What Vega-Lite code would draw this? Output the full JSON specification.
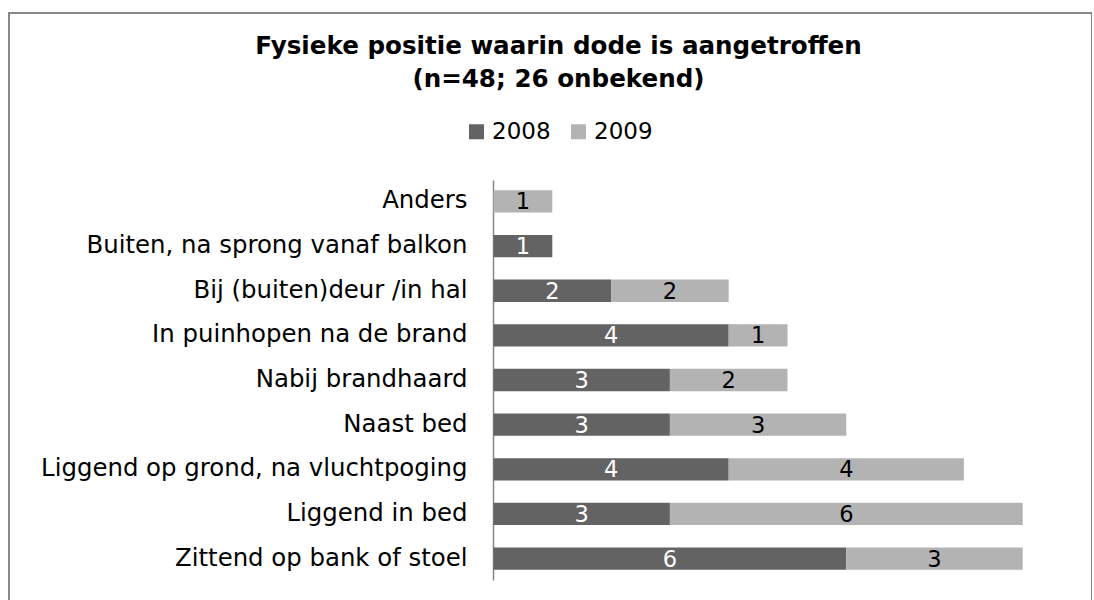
{
  "$schema": "https://vega.github.io/schema/vega-lite/v6.json",
  "autosize": {"type": "none"},
  "padding": {"left": 9, "top": 13, "right": 0, "bottom": 0},
  "width": 1083,
  "height": 600,
  "background": "white",
  "title": {
    "text": ["Fysieke positie waarin dode is aangetroffen", "(n=48; 26 onbekend)"],
    "font": "DejaVu Sans",
    "fontSize": 24.6,
    "fontWeight": "bold",
    "color": "black",
    "anchor": "middle",
    "frame": "group",
    "baseline": "top",
    "lineHeight": 33,
    "offset": 0,
    "dx": 8,
    "dy": 80
  },
  "data": {
    "values": [
      {"pos": "Anders", "year": "2009", "value": 1},
      {"pos": "Buiten, na sprong vanaf balkon", "year": "2008", "value": 1},
      {"pos": "Bij (buiten)deur /in hal", "year": "2008", "value": 2},
      {"pos": "Bij (buiten)deur /in hal", "year": "2009", "value": 2},
      {"pos": "In puinhopen na de brand ", "year": "2008", "value": 4},
      {"pos": "In puinhopen na de brand ", "year": "2009", "value": 1},
      {"pos": "Nabij brandhaard", "year": "2008", "value": 3},
      {"pos": "Nabij brandhaard", "year": "2009", "value": 2},
      {"pos": "Naast bed", "year": "2008", "value": 3},
      {"pos": "Naast bed", "year": "2009", "value": 3},
      {"pos": "Liggend op grond, na vluchtpoging", "year": "2008", "value": 4},
      {"pos": "Liggend op grond, na vluchtpoging", "year": "2009", "value": 4},
      {"pos": "Liggend in bed", "year": "2008", "value": 3},
      {"pos": "Liggend in bed", "year": "2009", "value": 6},
      {"pos": "Zittend op bank of stoel", "year": "2008", "value": 6},
      {"pos": "Zittend op bank of stoel", "year": "2009", "value": 3}
    ]
  },
  "transform": [
    {"stack": "value", "groupby": ["pos"], "sort": [{"field": "year", "order": "ascending"}], "as": ["x0", "x1"]}
  ],
  "encoding": {
    "y": {
      "field": "pos",
      "type": "nominal",
      "sort": null,
      "scale": {
        "domain": ["Anders", "Buiten, na sprong vanaf balkon", "Bij (buiten)deur /in hal", "In puinhopen na de brand ", "Nabij brandhaard", "Naast bed", "Liggend op grond, na vluchtpoging", "Liggend in bed", "Zittend op bank of stoel"],
        "range": [167, 567],
        "paddingInner": 0.5,
        "paddingOuter": 0.23
      },
      "axis": {
        "title": null,
        "offset": -484,
        "ticks": false,
        "grid": false,
        "domainColor": "#868686",
        "domainWidth": 1.5,
        "labelPadding": 26,
        "labelFont": "DejaVu Sans",
        "labelFontSize": 24.4,
        "labelColor": "black",
        "labelLimit": 700
      }
    }
  },
  "layer": [
    {
      "mark": {"type": "bar", "cornerRadius": 0},
      "encoding": {
        "x": {
          "field": "x0",
          "type": "quantitative",
          "scale": {"domain": [-8.24, 10.179], "nice": false, "zero": false},
          "axis": null
        },
        "x2": {"field": "x1"},
        "color": {
          "field": "year",
          "type": "nominal",
          "scale": {"domain": ["2008", "2009"], "range": ["#636363", "#b3b3b3"]},
          "legend": {
            "title": null,
            "orient": "none",
            "direction": "horizontal",
            "legendX": 456,
            "legendY": 107,
            "symbolType": "square",
            "symbolSize": 225,
            "symbolStrokeWidth": 0,
            "labelFont": "DejaVu Sans",
            "labelFontSize": 23,
            "labelColor": "black",
            "labelOffset": 4,
            "columnPadding": 16
          }
        }
      }
    },
    {
      "transform": [
        {"fold": ["x0", "x1"], "as": ["edge", "xv"]},
        {"aggregate": [{"op": "mean", "field": "xv", "as": "xmid"}], "groupby": ["pos", "year", "value"]}
      ],
      "mark": {"type": "text", "font": "DejaVu Sans", "fontSize": 22.5, "baseline": "middle", "align": "center", "dy": 1},
      "encoding": {
        "x": {"field": "xmid", "type": "quantitative"},
        "text": {"field": "value", "type": "quantitative"},
        "color": {"condition": {"test": "datum.year == '2008'", "value": "white"}, "value": "black"}
      }
    }
  ],
  "config": {
    "view": {"stroke": "#888888", "strokeWidth": 2, "fill": "white"}
  }
}
